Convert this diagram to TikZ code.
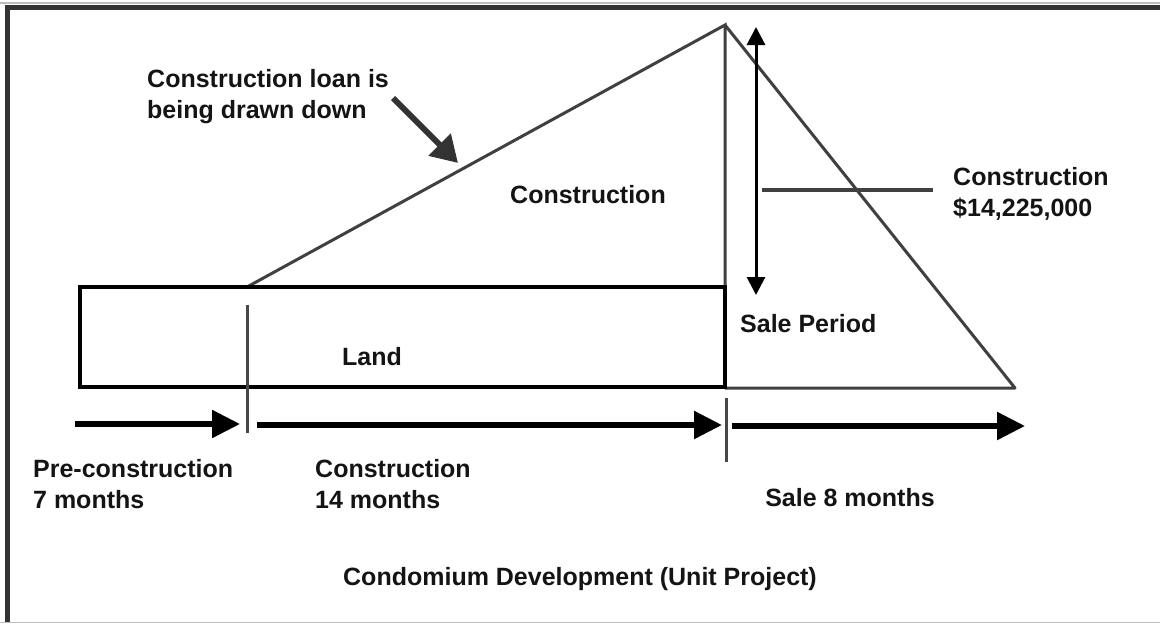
\documentclass[tikz,border=0pt]{standalone}
\usepackage{fontspec}
\setmainfont{Liberation Sans}
\usetikzlibrary{arrows.meta,positioning}
\definecolor{cdline}{RGB}{64,64,64}
\definecolor{cdframe}{RGB}{51,51,51}
\definecolor{cdlight}{RGB}{190,190,190}
\definecolor{cdtick}{RGB}{72,72,72}
\definecolor{cdtext}{RGB}{20,20,20}
\tikzstyle{lbl} = [font=\bfseries\fontsize{25}{31}\selectfont, inner sep=0pt, text=cdtext, align=left]
\tikzstyle{timeline} = [line width=5.5pt, black, -{Triangle[length=28pt,width=27pt]}]
\tikzstyle{edge} = [line width=3pt, cdline]
\tikzstyle{tick} = [line width=3pt, cdtick]

\begin{document}
\begin{tikzpicture}[x=1pt, y=-1pt]
\useasboundingbox (0,0) rectangle (1160,624);
% Frame
\draw[cdlight, line width=1.5pt] (0,3) -- (1160,3);
\draw[cdlight, line width=1.5pt] (0,622.5) -- (1160,622.5);
\draw[cdframe, line width=5pt] (7.5,622) -- (7.5,7.5) -- (1160,7.5);

% Key points
\coordinate (landNW) at (80,287);
\coordinate (landSE) at (725,387);
\coordinate (rise) at (247,287);
\coordinate (apex) at (725,25);
\coordinate (saleStart) at (725,388);
\coordinate (saleEnd) at (1015,388);

% Construction and sale triangles
\draw[edge, line join=miter] (rise) -- (apex) -- (saleStart);
\draw[edge, line join=round] (apex) -- (saleEnd) -- (saleStart);
\draw[black, line width=4pt] (landNW) rectangle (landSE);

% Loan amount
\coordinate (vtop) at (756,27);
\coordinate (vbot) at (756,295);
\draw[line width=3pt, black, {Triangle[length=18pt,width=18pt]}-{Triangle[length=18pt,width=18pt]}] (vtop) -- (vbot);
\coordinate (leadA) at (762,190);
\coordinate (leadB) at (933,190);
\draw[line width=3.5pt, cdline] (leadA) -- (leadB);

% Draw-down pointer
\coordinate (ptrA) at (393,98);
\coordinate (ptrB) at (458,163);
\draw[line width=6pt, cdframe, -{Triangle[length=26pt,width=30pt]}] (ptrA) -- (ptrB);

% Time line
\coordinate (t0) at (75,424);
\coordinate (t1) at (240,424);
\coordinate (t2) at (257,425);
\coordinate (t3) at (722,425);
\coordinate (t4) at (732,426);
\coordinate (t5) at (1025,426);
\draw[timeline] (t0) -- (t1);
\draw[timeline] (t2) -- (t3);
\draw[timeline] (t4) -- (t5);
\coordinate (tickAtop) at (247,305);
\coordinate (tickAbot) at (247,433);
\coordinate (tickBtop) at (726,398);
\coordinate (tickBbot) at (726,462);
\draw[tick] (tickAtop) -- (tickAbot);
\draw[tick] (tickBtop) -- (tickBbot);

% Labels
\node[lbl, anchor=north west] (loan) at (147,69) {Construction loan is\\being drawn down};
\node[lbl, anchor=base] (build) at (588,203) {Construction};
\node[lbl, anchor=north west] (cost) at (953,167) {Construction\\\$14,225,000};
\node[lbl, anchor=base] (land) at (372,365) {Land};
\node[lbl, anchor=base west] (saleper) at (740,332) {Sale Period};
\node[lbl, anchor=north west] (pre) at (33,459) {Pre-construction\\7 months};
\node[lbl, anchor=north west] (constr) at (315,459) {Construction\\14 months};
\node[lbl, anchor=base] (sale) at (850,506) {Sale 8 months};
\node[lbl, anchor=base] (title) at (580,585) {Condomium Development (Unit Project)};
\end{tikzpicture}
\end{document}
